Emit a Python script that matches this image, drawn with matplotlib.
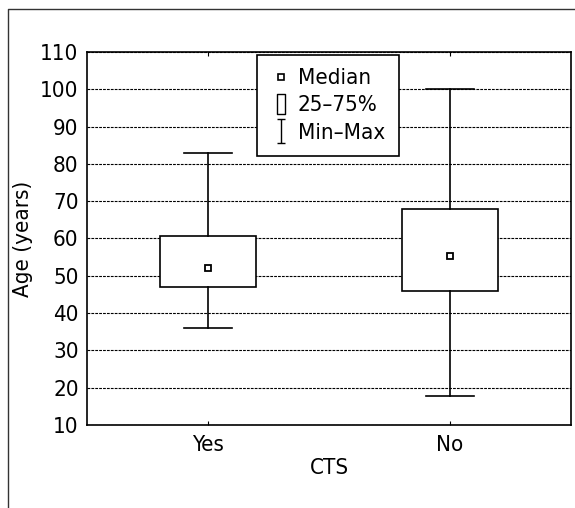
import matplotlib
matplotlib.use("Agg")
import matplotlib.pyplot as plt
from matplotlib.lines import Line2D
from matplotlib.path import Path

# valores
grupos = ["Yes", "No"]
minimos = [36, 17.8]
q1 = [47, 46]
medianas = [52, 55.2]
q3 = [60.7, 67.8]
maximos = [83, 100]
yticks = [10, 20, 30, 40, 50, 60, 70, 80, 90, 100, 110]

plt.rcParams["font.family"] = ["DejaVu Sans Condensed", "Liberation Sans Narrow", "DejaVu Sans"]
plt.rcParams["font.stretch"] = "condensed"
plt.rcParams["font.size"] = 16

fig = plt.figure(figsize=(5.75, 5.08), dpi=100)
ax = fig.add_axes([87 / 575, 1 - 425 / 508, 484 / 575, 373 / 508])

# moldura externa (so esquerda e topo)
fig.add_artist(Line2D([8 / 575, 8 / 575, 1], [0, 1 - 9 / 508, 1 - 9 / 508],
                      transform=fig.transFigure, color="#333333", lw=1))

posicoes = list(range(1, len(grupos) + 1))
stats = []
for i in range(len(grupos)):
    stats.append({"med": medianas[i], "q1": q1[i], "q3": q3[i],
                  "whislo": minimos[i], "whishi": maximos[i], "fliers": []})

ax.bxp(stats, positions=posicoes, widths=0.4, capwidths=0.2, showfliers=False,
       patch_artist=True,
       boxprops=dict(facecolor="white", edgecolor="black", linewidth=1.2),
       whiskerprops=dict(color="black", linewidth=1.2),
       capprops=dict(color="black", linewidth=1.2),
       medianprops=dict(visible=False))
ax.plot(posicoes, medianas, "s", mfc="white", mec="black", ms=5, mew=1.3, zorder=5)

ax.set_xlim(0.5, 2.5)
ax.set_ylim(10, 110)
ax.set_yticks(yticks)
ax.set_xticks(posicoes)
ax.set_xticklabels(grupos)
ax.yaxis.grid(True, linestyle=(0, (2.5, 1)), color="black", linewidth=0.8)
ax.set_axisbelow(True)
ax.tick_params(axis="x", direction="in", length=3, pad=7, top=True)
ax.tick_params(axis="y", direction="in", length=0, pad=6)
for s in ax.spines.values():
    s.set_linewidth(1.2)
ax.set_xlabel("CTS", labelpad=2)
ax.set_ylabel("Age (years)", labelpad=5)

# legenda
caixa = Path([(-0.4, -1), (0.4, -1), (0.4, 1), (-0.4, 1), (-0.4, -1)],
             [Path.MOVETO, Path.LINETO, Path.LINETO, Path.LINETO, Path.CLOSEPOLY])
barra = Path([(-0.35, -1), (0.35, -1), (0, -1), (0, 1), (-0.35, 1), (0.35, 1)],
             [Path.MOVETO, Path.LINETO, Path.MOVETO, Path.LINETO, Path.MOVETO, Path.LINETO])
handles = [
    Line2D([], [], ls="none", marker="s", ms=5, mfc="white", mec="black", mew=1.2),
    Line2D([], [], ls="none", marker=caixa, ms=14, mfc="white", mec="black", mew=1.0),
    Line2D([], [], ls="none", marker=barra, ms=17, color="black", mew=1.0),
]
leg = ax.legend(handles, ["Median", "25\u201375%", "Min\u2013Max"],
                loc="upper left", bbox_to_anchor=(0.351, 0.992), borderaxespad=0,
                fancybox=False, framealpha=1, edgecolor="black",
                borderpad=0.6, handlelength=1.0, handletextpad=0.25,
                labelspacing=0.32, fontsize=16)
leg.get_frame().set_linewidth(1.2)

fig.savefig("out.png", dpi=100)
